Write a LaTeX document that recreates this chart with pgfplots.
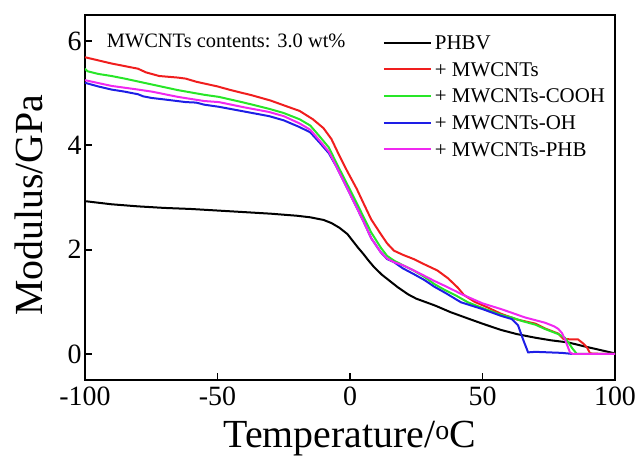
\documentclass[border=0pt]{standalone}
\usepackage{pgfplots}
\pgfplotsset{compat=1.18}
\usepackage{fontspec}
\setmainfont{Liberation Serif}
\definecolor{cred}{RGB}{240,30,30}
\definecolor{cgreen}{RGB}{40,230,40}
\definecolor{cblue}{RGB}{30,30,230}
\definecolor{cmag}{RGB}{240,40,240}
\begin{document}
\begin{tikzpicture}
\begin{axis}[
  scale only axis, width=530bp, height=365bp,
  xmin=-100, xmax=100, ymin=-0.5, ymax=6.5,
  xtick={-100,-50,0,50,100}, xticklabels={-100,-50,0,50,100},
  ytick={0,2,4,6}, yticklabels={0,2,4,6},
  tick align=inside, xtick pos=bottom, ytick pos=left,
  major tick length=7bp,
  tick style={line width=1.8bp, black},
  axis line style={line width=2.2bp},
  ticklabel style={font=\fontsize{28}{32}\selectfont},
  xticklabel style={yshift=-3bp},
  label style={font=\fontsize{40}{46}\selectfont},
  xlabel={Temperature/\textsuperscript{o}C},
  ylabel={Modulus/GPa},
  xlabel style={at={(axis description cs:0.5,-0.1863)}, anchor=base},
  ylabel style={at={(axis description cs:-0.081,0.479)}, anchor=base},
  legend style={draw=none, fill=none, at={(axis description cs:0.5617,0.9438)}, anchor=north west,
    font=\fontsize{21}{25}\selectfont, inner sep=0pt,
    nodes={inner sep=0pt, text height=14bp, text depth=5bp, anchor=base west},
    row sep=7.6bp,
    /tikz/every odd column/.append style={column sep=3bp}},
  legend cell align=left,
  legend image code/.code={\draw[#1] (0bp,7bp) -- (47bp,7bp);},
  every axis plot/.append style={line width=2bp},
]
\addplot[black] coordinates {
(-100,2.93) (-90,2.87) (-80,2.83) (-70,2.80) (-60,2.78) (-50,2.75) (-40,2.72) (-30,2.69)
(-20,2.65) (-15,2.62) (-10,2.57) (-7,2.51) (-4,2.42) (-1,2.30) (1,2.17) (3,2.04) (5,1.92)
(7,1.79) (9,1.67) (12,1.52) (15,1.40) (18,1.28) (22,1.14) (25,1.06) (32,0.93) (38,0.80)
(44.5,0.68) (50,0.58) (57,0.46) (63,0.38) (70,0.31) (76,0.26) (82.4,0.22) (88,0.15)
(94,0.08) (100,0.01)};
\addlegendentry{PHBV}
\addplot[cred] coordinates {
(-100,5.69) (-95,5.63) (-90,5.57) (-85,5.52) (-80,5.47) (-77,5.40) (-72,5.33) (-65,5.30)
(-62,5.28) (-58,5.22) (-50,5.13) (-45,5.06) (-37,4.96) (-30,4.86) (-24,4.75) (-19,4.66)
(-14,4.50) (-10,4.33) (-7,4.12) (-4,3.80) (-1,3.50) (2.5,3.17) (5,2.90) (8,2.58) (11.6,2.30)
(14,2.12) (16.6,1.98) (20,1.90) (24,1.82) (28,1.72) (33,1.60) (37,1.45) (40.7,1.27)
(43,1.13) (47,1.00) (52,0.89) (57,0.77) (63,0.66) (70,0.58) (73.5,0.49) (78.6,0.39)
(80.5,0.29) (83,0.28) (86,0.28) (88,0.20) (89.5,0.12) (90.6,0.01) (95,0.00) (100,0.00)};
\addlegendentry{+ MWCNTs}
\addplot[cgreen] coordinates {
(-100,5.47) (-99,5.42) (-95,5.37) (-90,5.33) (-85,5.28) (-75,5.17) (-65,5.06) (-55,4.97)
(-49.5,4.93) (-40,4.82) (-30.5,4.70) (-25,4.62) (-19,4.50) (-15,4.38) (-11.6,4.18) (-8,3.96)
(-5,3.65) (-2,3.35) (1,3.05) (5,2.64) (8,2.33) (11.6,2.04) (14,1.88) (16.6,1.79) (20,1.70)
(24,1.60) (28,1.48) (31.8,1.34) (36,1.22) (40,1.12) (44.5,0.99) (50,0.88) (57,0.75)
(61,0.70) (65,0.63) (70,0.56) (73.5,0.48) (78.6,0.38) (81.1,0.31) (82.4,0.22) (84,0.10)
(85.6,0.00) (100,0.00)};
\addlegendentry{+ MWCNTs-COOH}
\addplot[cblue] coordinates {
(-100,5.20) (-95,5.13) (-90,5.07) (-85,5.03) (-80,4.98) (-78,4.94) (-75,4.91) (-70,4.88)
(-62,4.83) (-58,4.82) (-55,4.78) (-49.5,4.74) (-40,4.65) (-30.5,4.56) (-25,4.48) (-19,4.35)
(-15,4.25) (-11.6,4.06) (-8,3.85) (-5,3.58) (-1,3.17) (2.5,2.81) (5.2,2.53) (8,2.22)
(11.6,1.95) (14,1.82) (16.6,1.76) (20,1.64) (24.1,1.53) (28,1.42) (31.8,1.29) (36,1.17)
(41.9,0.99) (50,0.86) (57,0.73) (61,0.67) (63.4,0.55) (65.3,0.28) (67.2,0.03) (70,0.04)
(75,0.03) (80,0.02) (84,0.00)};
\addlegendentry{+ MWCNTs-OH}
\addplot[cmag] coordinates {
(-100,5.25) (-90,5.14) (-80,5.07) (-74.7,5.03) (-65,4.93) (-55,4.85) (-49.5,4.83) (-40,4.73)
(-30.5,4.64) (-25,4.56) (-19,4.42) (-15,4.30) (-11.6,4.10) (-8,3.88) (-5,3.58) (-1,3.17)
(2.5,2.81) (5.2,2.53) (8,2.22) (11.6,1.95) (14,1.83) (16.6,1.76) (20,1.70) (24.1,1.60)
(28,1.50) (31.8,1.40) (36,1.30) (40,1.20) (41.9,1.15) (50,0.97) (57,0.86) (61,0.79)
(66,0.70) (73.5,0.60) (77,0.53) (78.6,0.48) (80,0.40) (81.1,0.28) (83,0.03) (84,0.00)
(100,0.00)};
\addlegendentry{+ MWCNTs-PHB}
\node[anchor=base west, inner sep=0pt, font=\fontsize{20.5}{24}\selectfont]
  at (axis description cs:0.041,0.9115) {MWCNTs contents: 3.0 wt\%};
\end{axis}
\pgfresetboundingbox
\path[use as bounding box] (-85bp,-77bp) rectangle (553bp,380bp);
\end{tikzpicture}
\end{document}
